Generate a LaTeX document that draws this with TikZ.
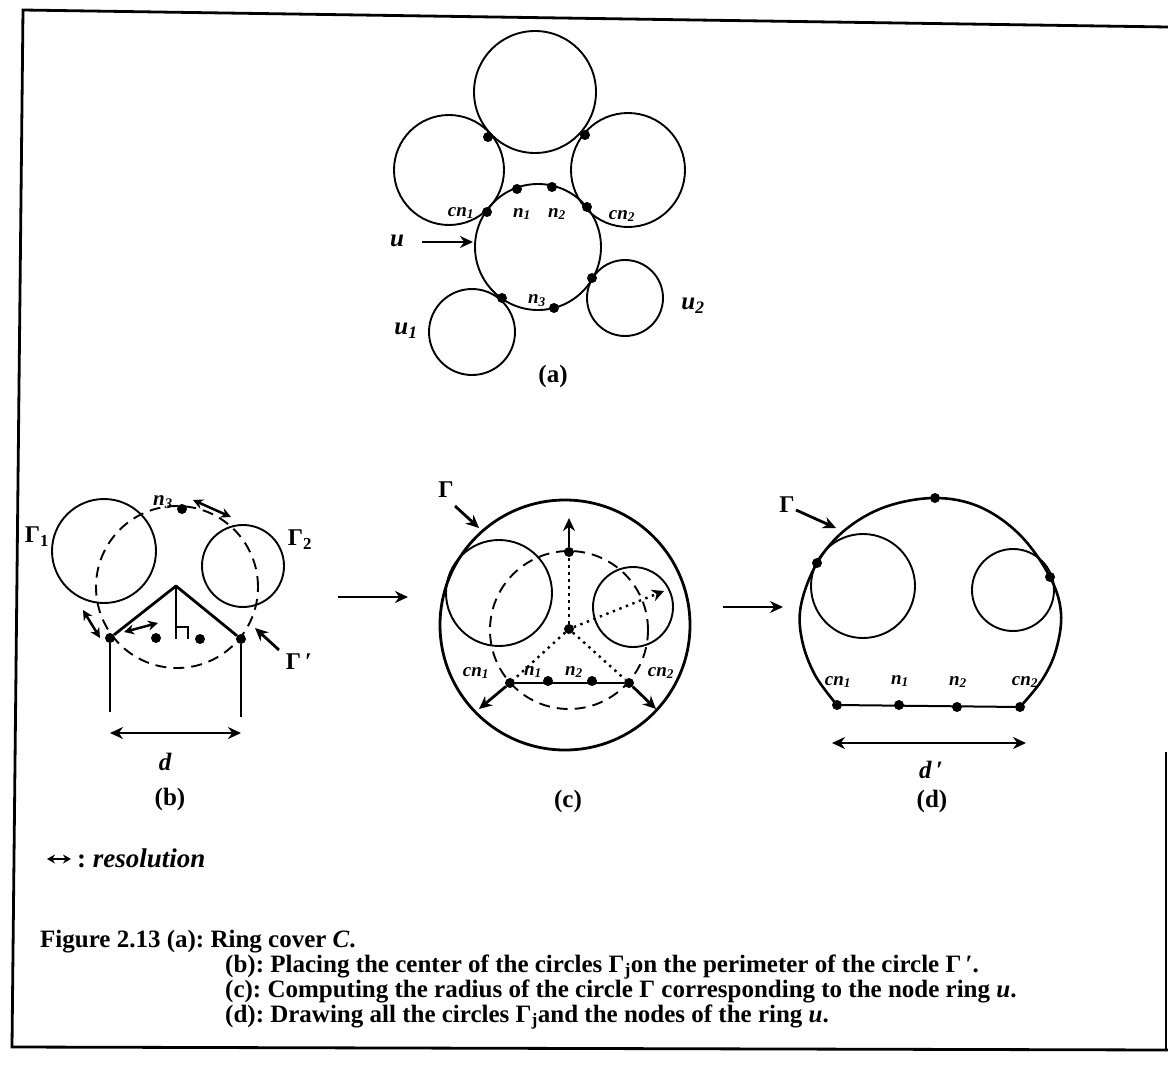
\documentclass[tikz,border=0pt]{standalone}
\usepackage{fontspec}
\setmainfont{Liberation Serif}
\usetikzlibrary{arrows.meta}
\frenchspacing
\begin{document}
\begin{tikzpicture}[x=1pt,y=-1pt,
  ln/.style={line width=1.9pt},
  thk/.style={line width=2.8pt},
  dsh/.style={line width=1.9pt,dash pattern=on 11pt off 7pt},
  dtt/.style={line width=2.4pt,dash pattern=on 2.4pt off 4.6pt},
  dotc/.style={circle,fill=black,inner sep=0pt,minimum size=10pt},
  arr/.style={line width=2.8pt,-{Stealth[length=13pt,width=12pt]}},
  darr/.style={line width=2.8pt,{Stealth[length=13pt,width=12pt]}-{Stealth[length=13pt,width=12pt]}},
  sdarr/.style={line width=2.5pt,{Stealth[length=10pt,width=10pt]}-{Stealth[length=10pt,width=10pt]}},
  lbl/.style={font=\bfseries\itshape\fontsize{19}{19}\selectfont,inner sep=0pt},
  blbl/.style={font=\bfseries\itshape\fontsize{25}{25}\selectfont,inner sep=0pt},
  glbl/.style={font=\bfseries\fontsize{24}{24}\selectfont,inner sep=0pt},
  sublbl/.style={font=\bfseries\fontsize{25}{25}\selectfont,inner sep=0pt},
  captxt/.style={font=\bfseries\fontsize{25}{25}\selectfont,anchor=base west,inner sep=0pt},
]
\useasboundingbox (0,0) rectangle (1168,1071);
\clip (0,0) rectangle (1168,1071);
% frame
\draw[line width=2.8pt] (1168,27) -- (23,10) -- (12,1047) -- (1168,1050);
\draw[line width=2.8pt] (1166,752) -- (1166,1050);

% ---------------- (a)
\draw[ln] (535,92) circle[radius=61pt];
\draw[ln] (449,170) circle[radius=55pt];
\draw[ln] (628,170) circle[radius=57pt];
\draw[ln] (538,247) circle[radius=63pt];
\draw[ln] (472,332) circle[radius=43pt];
\draw[ln] (625,298) circle[radius=38pt];
\node[dotc] (a1) at (488,137) {};
\node[dotc] (a2) at (585,135) {};
\node[dotc] (an1) at (517,189) {};
\node[dotc] (an2) at (552,187) {};
\node[dotc] (acn1) at (487,212) {};
\node[dotc] (acn2) at (587,207) {};
\node[dotc] (au2) at (592,278) {};
\node[dotc] (au1) at (502,298) {};
\node[dotc] (an3) at (554,308) {};
\node[lbl] (lcn1) at (461,213) {cn\textsubscript{1}};
\node[lbl] (ln1) at (522,214) {n\textsubscript{1}};
\node[lbl] (ln2) at (557,214) {n\textsubscript{2}};
\node[lbl] (lcn2) at (622,216) {cn\textsubscript{2}};
\node[lbl] (ln3) at (537,301) {n\textsubscript{3}};
\node[blbl] (lu) at (397,241) {u};
\node[blbl] (lu2) at (693,306) {u\textsubscript{2}};
\node[blbl] (lu1) at (406,331) {u\textsubscript{1}};
\coordinate (uas) at (422,242);
\coordinate (uae) at (473,242);
\draw[arr] (uas) -- (uae);
\node[sublbl] (capa) at (553,376) {(a)};

% ---------------- (b)
\draw[ln] (104,551) circle[radius=52pt];
\draw[ln] (243,566) circle[radius=41pt];
\draw[dsh] (177,587) circle[radius=81pt];
\coordinate (bap) at (176,586);
\coordinate (bft) at (176,639);
\node[dotc] (bl) at (110,638) {};
\node[dotc] (bm1) at (156,638) {};
\node[dotc] (bm2) at (200,639) {};
\node[dotc] (br) at (241,639) {};
\node[dotc] (bn3) at (182,509) {};
\draw[thk,line join=round] (bl) -- (bap) -- (br) -- cycle;
\draw[ln] (bap) -- (bft);
\draw[ln] (176,627) -- (188,627) -- (188,639);
\node[glbl] (g1) at (37,537) {Γ\textsubscript{1}};
\node[glbl] (g2) at (300,540) {Γ\textsubscript{2}};
\node[blbl,font=\bfseries\itshape\fontsize{21}{21}\selectfont] (bln3) at (163,502) {n\textsubscript{3}};
\coordinate (br1a) at (193,500); \coordinate (br1b) at (231,517);
\draw[sdarr] (br1a) -- (br1b);
\coordinate (br2a) at (83,610); \coordinate (br2b) at (100,638);
\draw[sdarr] (br2a) -- (br2b);
\coordinate (br3a) at (124,632); \coordinate (br3b) at (158,623);
\draw[sdarr] (br3a) -- (br3b);
\node[glbl] (gp) at (299,662) {Γ\,′};
\coordinate (gpa) at (279,650); \coordinate (gpb) at (255,628);
\draw[arr] (gpa) -- (gpb);
\coordinate (bv1) at (110,712); \coordinate (bv2) at (241,717);
\draw[line width=1.4pt] (bl) -- (bv1);
\draw[line width=1.4pt] (br) -- (bv2);
\coordinate (bda) at (110,733); \coordinate (bdb) at (241,733);
\draw[darr] (bda) -- (bdb);
\node[blbl] (ld) at (165,762) {d};
\node[sublbl] (capb) at (170,799) {(b)};

% ---------------- (c)
\coordinate (cas) at (338,597); \coordinate (cae) at (408,597);
\draw[arr] (cas) -- (cae);
\draw[thk] (565,625) circle[radius=125pt];
\draw[ln] (499,593) circle[radius=53pt];
\draw[ln] (633,607) circle[radius=40pt];
\draw[dsh] (569,630) circle[radius=79pt];
\node[dotc] (cc) at (569,629) {};
\node[dotc] (ct) at (569,552) {};
\node[dotc] (ccn1) at (510,683) {};
\node[dotc] (ccn2) at (629,683) {};
\node[dotc] (cn1) at (548,681) {};
\node[dotc] (cn2) at (592,681) {};
\draw[line width=2.4pt] (ccn1) -- (ccn2);
\coordinate (ctop) at (569,518);
\draw[arr] (ct) -- (ctop);
\draw[dtt] (cc) -- (ct);
\draw[dtt] (cc) -- (ccn1);
\draw[dtt] (cc) -- (ccn2);
\coordinate (cre) at (664,591);
\draw[dtt,-{Stealth[length=12pt,width=12pt]}] (cc) -- (cre);
\coordinate (cl1) at (479,709); \coordinate (cl2) at (656,709);
\draw[arr] (ccn1) -- (cl1);
\draw[arr] (ccn2) -- (cl2);
\node[glbl] (cg) at (446,490) {Γ};
\coordinate (cga) at (455,506); \coordinate (cgb) at (479,528);
\draw[arr] (cga) -- (cgb);
\node[lbl] (clcn1) at (476,673) {cn\textsubscript{1}};
\node[lbl] (cln1) at (533,672) {n\textsubscript{1}};
\node[lbl] (cln2) at (574,672) {n\textsubscript{2}};
\node[lbl] (clcn2) at (661,673) {cn\textsubscript{2}};
\node[sublbl] (capc) at (568,801) {(c)};

% ---------------- (d)
\coordinate (das) at (723,607); \coordinate (dae) at (783,607);
\draw[arr] (das) -- (dae);
\node[dotc] (dcn1) at (837,705) {};
\node[dotc] (dn1) at (899,705) {};
\node[dotc] (dn2) at (957,707) {};
\node[dotc] (dcn2) at (1020,707) {};
\node[dotc] (dtop) at (935,498) {};
\node[dotc] (dl) at (817,563) {};
\node[dotc] (dr) at (1050,577) {};
\draw[line width=2.6pt] plot[smooth,tension=0.6] coordinates {(837,705) (815,675) (802,640) (801,605) (817,563) (845,530) (885,507) (935,498) (980,507) (1020,535) (1050,577) (1061,613) (1056,650) (1042,680) (1020,707)};
\draw[line width=2pt] (dcn1) -- (dcn2);
\draw[ln] (863,586) circle[radius=52pt];
\draw[ln] (1013,590) circle[radius=41pt];
\node[glbl] (dg) at (787,505) {Γ};
\coordinate (dga) at (796,510); \coordinate (dgb) at (836,528);
\draw[arr] (dga) -- (dgb);
\node[lbl] (dlcn1) at (838,682) {cn\textsubscript{1}};
\node[lbl] (dln1) at (900,681) {n\textsubscript{1}};
\node[lbl] (dln2) at (958,682) {n\textsubscript{2}};
\node[lbl] (dlcn2) at (1025,682) {cn\textsubscript{2}};
\coordinate (dda) at (832,743); \coordinate (ddb) at (1026,743);
\draw[darr] (dda) -- (ddb);
\node[blbl] (ldp) at (931,770) {d\,′};
\node[sublbl] (capd) at (932,801) {(d)};

% ---------------- legend and caption
\coordinate (lga) at (47,859); \coordinate (lgb) at (71,859);
\draw[line width=2pt,{Stealth[length=8pt,width=9pt]}-{Stealth[length=8pt,width=9pt]}] (lga) -- (lgb);
\node[captxt,font=\bfseries\fontsize{27}{27}\selectfont] (lgt) at (77,867) {: \textit{resolution}};
\node[captxt] (f1) at (40,947) {Figure 2.13 (a): Ring cover \textit{C}.};
\node[captxt] (f2) at (225,972) {(b): Placing the center of the circles Γ\textsubscript{j}on the perimeter of the circle Γ\,′.};
\node[captxt] (f3) at (225,997) {(c): Computing the radius of the circle Γ corresponding to the node ring \textit{u}.};
\node[captxt] (f4) at (225,1022) {(d): Drawing all the circles Γ\textsubscript{j}and the nodes of the ring \textit{u}.};
\end{tikzpicture}
\end{document}
